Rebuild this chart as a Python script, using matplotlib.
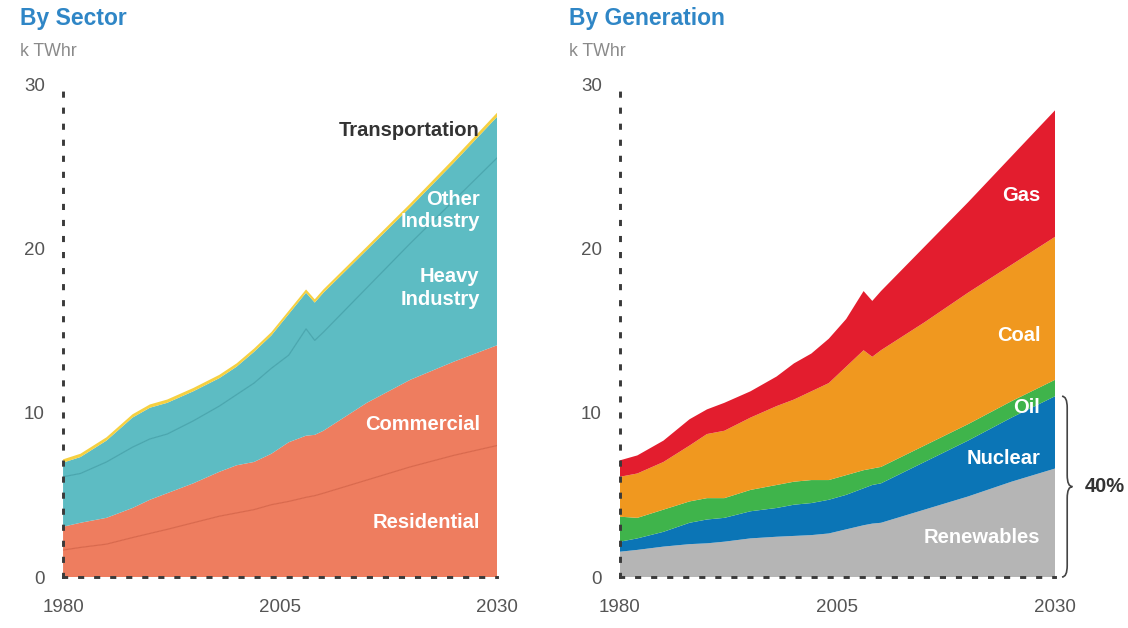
import matplotlib
matplotlib.use("Agg")
import matplotlib.pyplot as plt
from matplotlib.path import Path
from matplotlib.patches import PathPatch
import numpy as np

plt.rcParams['font.family'] = ['Liberation Sans', 'DejaVu Sans']

# ---- data (k TWhr) ----
years = [1980, 1982, 1985, 1988, 1990, 1992, 1995, 1998, 2000, 2002,
         2004, 2006, 2008, 2009, 2010, 2015, 2020, 2025, 2030]

# by sector (layers, bottom to top)
residential = [1.64, 1.8, 2.0, 2.4, 2.65, 2.9, 3.3, 3.7, 3.9, 4.1,
               4.4, 4.6, 4.85, 4.95, 5.1, 5.9, 6.7, 7.4, 8.0]
commercial = [1.42, 1.5, 1.6, 1.8, 2.05, 2.2, 2.4, 2.7, 2.9, 2.9,
              3.1, 3.6, 3.75, 3.7, 3.8, 4.7, 5.3, 5.7, 6.1]
heavy_industry = [3.04, 3.0, 3.4, 3.7, 3.7, 3.6, 3.8, 4.0, 4.3, 4.8,
                  5.2, 5.3, 6.5, 5.75, 6.0, 7.0, 8.3, 9.8, 11.4]
other_industry = [0.86, 1.0, 1.3, 1.8, 1.9, 1.9, 1.8, 1.7, 1.7, 1.9,
                  2.0, 2.5, 2.2, 2.3, 2.4, 2.3, 2.2, 2.3, 2.5]
transportation = [0.2, 0.2, 0.2, 0.2, 0.2, 0.2, 0.2, 0.2, 0.2, 0.2,
                  0.2, 0.2, 0.2, 0.2, 0.2, 0.2, 0.22, 0.24, 0.25]

# by generation (layers, bottom to top)
renewables = [1.54, 1.65, 1.85, 2.0, 2.05, 2.15, 2.35, 2.45, 2.5, 2.55,
              2.65, 2.9, 3.15, 3.25, 3.3, 4.1, 4.9, 5.8, 6.6]
nuclear = [0.61, 0.70, 0.90, 1.30, 1.45, 1.45, 1.65, 1.75, 1.90, 1.95,
           2.05, 2.10, 2.25, 2.35, 2.40, 2.90, 3.40, 3.90, 4.40]
oil = [1.52, 1.25, 1.35, 1.30, 1.30, 1.20, 1.30, 1.40, 1.40, 1.40,
       1.20, 1.20, 1.10, 1.00, 1.00, 1.00, 1.00, 1.00, 1.00]
coal = [2.43, 2.70, 2.90, 3.40, 3.90, 4.10, 4.40, 4.80, 5.00, 5.40,
        5.90, 6.60, 7.30, 6.80, 7.10, 7.50, 8.00, 8.30, 8.70]
gas = [1.0, 1.1, 1.3, 1.6, 1.5, 1.7, 1.6, 1.8, 2.2, 2.3,
       2.7, 2.9, 3.6, 3.4, 3.6, 4.6, 5.5, 6.6, 7.7]

x_ticks = [1980, 2005, 2030]
y_ticks = [0, 10, 20, 30]
share_label = "40%"

# ---- style ----
c_salmon = '#ee7d5f'
c_teal = '#5dbcc3'
c_yellow = '#f6d040'
c_gas = '#e31d2e'
c_coal = '#f0981f'
c_oil = '#3fb44b'
c_nuclear = '#0b75b6'
c_renew = '#b5b5b5'
c_title = '#2f86c6'
c_grey = '#8a8a8a'
c_tick = '#555555'
c_dots = '#3a3a3a'

fig = plt.figure(figsize=(11.28, 6.28), dpi=100)
ax1 = fig.add_axes([0.0559, 0.0812, 0.3847, 0.7850])
ax2 = fig.add_axes([0.5496, 0.0812, 0.3857, 0.7850])


def style_axis(ax):
    ax.set_xlim(1980, 2030)
    ax.set_ylim(0, 30)
    ax.set_xticks(x_ticks)
    ax.set_yticks(y_ticks)
    ax.tick_params(length=0, labelsize=13.5, labelcolor=c_tick)
    ax.tick_params(axis='y', pad=13)
    ax.tick_params(axis='x', pad=16)
    for s in ['top', 'right']:
        ax.spines[s].set_visible(False)
    for s in ['left', 'bottom']:
        ax.spines[s].set_linestyle((0, (1.1, 4.4)))
        ax.spines[s].set_linewidth(2.1)
        ax.spines[s].set_color(c_dots)
        ax.spines[s].set_zorder(5)


# ---- left: by sector ----
ax1.stackplot(years, residential, commercial, heavy_industry, other_industry, transportation,
              colors=[c_salmon, c_salmon, c_teal, c_teal, c_yellow], linewidth=0)
res_top = np.array(residential)
heavy_top = np.array(residential) + np.array(commercial) + np.array(heavy_industry)
ax1.plot(years, res_top, color='#d9694d', lw=0.9)
ax1.plot(years, heavy_top, color='#4aa6ae', lw=0.9)
style_axis(ax1)

lab = dict(ha='right', va='center', fontsize=14.5, fontweight='bold', color='white')
ax1.text(2028.0, 27.2, "Transportation", ha='right', va='center', fontsize=14.5,
         fontweight='bold', color='#333333')
ax1.text(2028.0, 22.3, "Other\nIndustry", linespacing=1.25, **lab)
ax1.text(2028.0, 17.6, "Heavy\nIndustry", linespacing=1.25, **lab)
ax1.text(2028.0, 9.3, "Commercial", **lab)
ax1.text(2028.0, 3.3, "Residential", **lab)

# ---- right: by generation ----
ax2.stackplot(years, renewables, nuclear, oil, coal, gas,
              colors=[c_renew, c_nuclear, c_oil, c_coal, c_gas], linewidth=0)
style_axis(ax2)

ax2.text(2028.3, 23.2, "Gas", **lab)
ax2.text(2028.3, 14.7, "Coal", **lab)
ax2.text(2028.3, 10.3, "Oil", **lab)
ax2.text(2028.3, 7.2, "Nuclear", **lab)
ax2.text(2028.3, 2.4, "Renewables", **lab)

# brace over renewables + nuclear
brace_top = renewables[-1] + nuclear[-1]
x0, w, r = 2030.8, 1.2, 0.7
ymid = brace_top / 2
verts = [(x0, brace_top), (x0 + w / 2, brace_top), (x0 + w / 2, brace_top - r),
         (x0 + w / 2, ymid + r),
         (x0 + w / 2, ymid), (x0 + w, ymid),
         (x0 + w / 2, ymid), (x0 + w / 2, ymid - r),
         (x0 + w / 2, r),
         (x0 + w / 2, 0), (x0, 0)]
codes = [Path.MOVETO, Path.CURVE3, Path.CURVE3, Path.LINETO,
         Path.CURVE3, Path.CURVE3, Path.CURVE3, Path.CURVE3,
         Path.LINETO, Path.CURVE3, Path.CURVE3]
ax2.add_patch(PathPatch(Path(verts, codes), fill=False, lw=1.2, ec='#444444', clip_on=False))
ax2.text(2033.4, ymid, share_label, ha='left', va='center', fontsize=14.5,
         fontweight='bold', color='#333333', clip_on=False)

# ---- titles ----
fig.text(20 / 1128, 1 - 19 / 628, "By Sector", ha='left', va='center',
         fontsize=16.5, fontweight='bold', color=c_title)
fig.text(20 / 1128, 1 - 51 / 628, "k TWhr", ha='left', va='center',
         fontsize=12.8, color=c_grey)
fig.text(569 / 1128, 1 - 19 / 628, "By Generation", ha='left', va='center',
         fontsize=16.5, fontweight='bold', color=c_title)
fig.text(569 / 1128, 1 - 51 / 628, "k TWhr", ha='left', va='center',
         fontsize=12.8, color=c_grey)

fig.savefig("out.png", dpi=100)
